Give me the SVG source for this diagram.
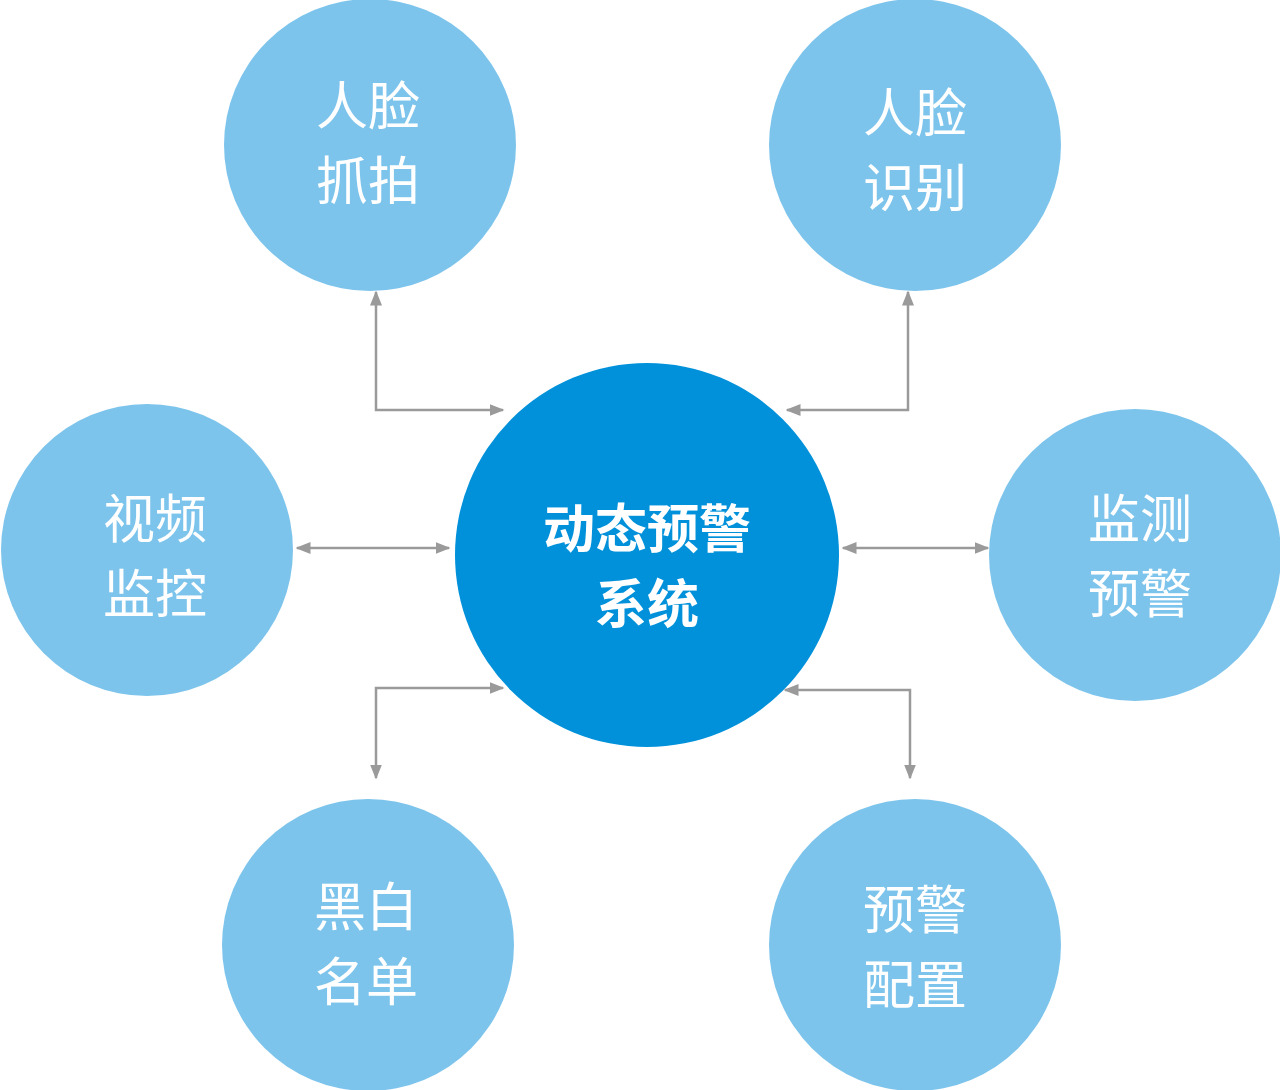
<svg xmlns="http://www.w3.org/2000/svg" width="1280" height="1090" viewBox="0 0 1280 1090">
<style>
.s{fill:#7DC4EC}
.t{fill:#fff;font-family:"Noto Sans CJK SC","Liberation Sans",sans-serif;font-size:52px;text-anchor:middle}
.b{font-weight:bold}
.c{fill:none;stroke:#9A9A9A;stroke-width:2.5;marker-start:url(#a);marker-end:url(#a)}
</style>
<defs><marker id="a" viewBox="0 0 10 10" refX="9" refY="5" markerWidth="6" markerHeight="6" orient="auto-start-reverse" markerUnits="strokeWidth"><path d="M0,1 L10,5 L0,9 z" fill="#9A9A9A"/></marker></defs>
<rect width="1280" height="1090" fill="#fff"/>
<g id="connectors">
<path class="c" d="M376,292 V410 H503"/>
<path class="c" d="M908,292 V410 H787"/>
<path class="c" d="M297,548 H449"/>
<path class="c" d="M843,548 H988"/>
<path class="c" d="M376,778 V688 H503"/>
<path class="c" d="M910,778 V690 H785"/>
</g>
<g id="center"><circle cx="647" cy="555" r="192" fill="#0091DA"/><text class="t b" x="647" y="548">动态预警</text><text class="t b" x="647" y="623">系统</text></g>
<g id="n1"><circle class="s" cx="370" cy="145" r="146"/><text class="t" x="368" y="125">人脸</text><text class="t" x="368" y="200">抓拍</text></g>
<g id="n2"><circle class="s" cx="915" cy="145" r="146"/><text class="t" x="915" y="132">人脸</text><text class="t" x="915" y="207">识别</text></g>
<g id="n3"><circle class="s" cx="147" cy="550" r="146"/><text class="t" x="155" y="538">视频</text><text class="t" x="155" y="613">监控</text></g>
<g id="n4"><circle class="s" cx="1135" cy="555" r="146"/><text class="t" x="1140" y="538">监测</text><text class="t" x="1140" y="613">预警</text></g>
<g id="n5"><circle class="s" cx="368" cy="945" r="146"/><text class="t" x="366" y="926">黑白</text><text class="t" x="366" y="1001">名单</text></g>
<g id="n6"><circle class="s" cx="915" cy="945" r="146"/><text class="t" x="915" y="929">预警</text><text class="t" x="915" y="1004">配置</text></g>
</svg>
